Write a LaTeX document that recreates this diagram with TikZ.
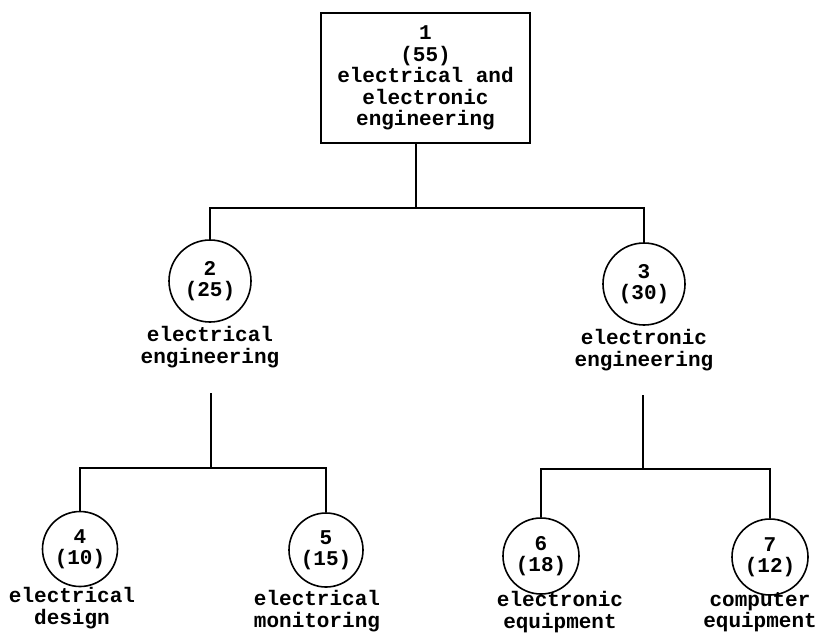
\documentclass[tikz,border=0pt]{standalone}
\usepackage{fontspec}
\setmonofont{Liberation Mono}
\tikzset{
	topbox/.style={draw, line width=1.8pt, minimum width=209pt, minimum height=130pt, align=center, inner sep=0pt},
	catnode/.style={draw, circle, line width=1.6pt, align=center, inner sep=0pt},
	catlabel/.style={align=center, inner sep=0pt},
	link/.style={line width=1.6pt}
}
\begin{document}
\begin{tikzpicture}[x=1pt, y=-1pt, font=\ttfamily\bfseries\fontsize{21}{21.5}\selectfont]

	\useasboundingbox (0, 0) rectangle (826, 633);

	% root
	\node[topbox] (n1) at (425.5, 78) {1\\(55)\\electrical and\\electronic\\engineering};

	% second level
	\node[catnode, minimum size=82pt] (n2) at (210, 281) {2\\(25)};
	\node[catlabel] (t2) at (210, 347) {electrical\\engineering};
	\node[catnode, minimum size=82pt] (n3) at (644, 284) {3\\(30)};
	\node[catlabel] (t3) at (644, 350) {electronic\\engineering};

	% third level
	\node[catnode, minimum size=75pt] (n4) at (80, 549) {4\\(10)};
	\node[catlabel] (t4) at (72, 608) {electrical\\design};
	\node[catnode, minimum size=74pt] (n5) at (326, 550) {5\\(15)};
	\node[catlabel] (t5) at (317, 611) {electrical\\monitoring};
	\node[catnode, minimum size=76pt] (n6) at (541, 556) {6\\(18)};
	\node[catlabel] (t6) at (560, 612) {electronic\\equipment};
	\node[catnode, minimum size=76pt] (n7) at (770, 557) {7\\(12)};
	\node[catlabel] (t7) at (760, 612) {computer\\equipment};

	% junctions
	\coordinate (j1) at (416, 208);
	\coordinate (s2) at (211, 393);
	\coordinate (j2) at (211, 468);
	\coordinate (s3) at (643, 395);
	\coordinate (j3) at (643, 469);

	\draw[link] (n1.south -| j1) -- (j1);
	\draw[link] (n2) |- (j1) -| (n3);

	\draw[link] (s2) -- (j2);
	\draw[link] (n4) |- (j2) -| (n5);

	\draw[link] (s3) -- (j3);
	\draw[link] (n6) |- (j3) -| (n7);

\end{tikzpicture}
\end{document}
